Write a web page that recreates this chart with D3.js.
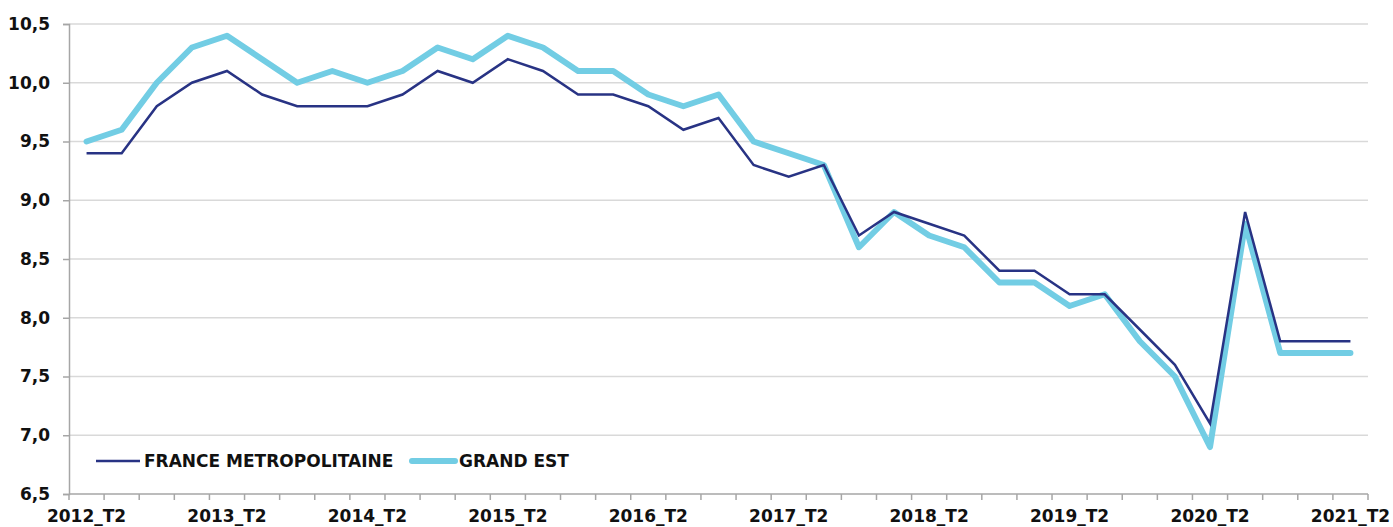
<!DOCTYPE html>
<html>
<head>
<meta charset="utf-8">
<script src="https://cdn.jsdelivr.net/npm/d3@7"></script>
<style>
  html, body { margin: 0; padding: 0; background: #fff; }
  svg { display: block; }
  text { font-family: "DejaVu Sans", sans-serif; }
</style>
</head>
<body>
<svg id="chart" width="1393" height="527"></svg>
<script>
const years = [2012, 2013, 2014, 2015, 2016, 2017, 2018, 2019, 2020, 2021];
const quarters = [];
years.forEach(y => ["T2", "T3", "T4", "T1n"].forEach(q => quarters.push(q === "T1n" ? (y + 1) + "_T1" : y + "_" + q)));
const categories = quarters.slice(0, 37); // 2012_T2 .. 2021_T2

const franceValues = [9.4, 9.4, 9.8, 10.0, 10.1, 9.9, 9.8, 9.8, 9.8, 9.9, 10.1, 10.0, 10.2, 10.1, 9.9, 9.9,
  9.8, 9.6, 9.7, 9.3, 9.2, 9.3, 8.7, 8.9, 8.8, 8.7, 8.4, 8.4, 8.2, 8.2, 7.9, 7.6, 7.1, 8.9, 7.8, 7.8, 7.8];
const grandEstValues = [9.5, 9.6, 10.0, 10.3, 10.4, 10.2, 10.0, 10.1, 10.0, 10.1, 10.3, 10.2, 10.4, 10.3, 10.1, 10.1,
  9.9, 9.8, 9.9, 9.5, 9.4, 9.3, 8.6, 8.9, 8.7, 8.6, 8.3, 8.3, 8.1, 8.2, 7.8, 7.5, 6.9, 8.8, 7.7, 7.7, 7.7];
const yTicks = [6.5, 7.0, 7.5, 8.0, 8.5, 9.0, 9.5, 10.0, 10.5];
const xTickLabels = ["2012_T2", "2013_T2", "2014_T2", "2015_T2", "2016_T2", "2017_T2", "2018_T2", "2019_T2", "2020_T2", "2021_T2"];
const seriesNames = ["FRANCE METROPOLITAINE", "GRAND EST"];

const svg = d3.select("#chart");
const mLeft = 69, mRight = 1368, mTop = 24, mBottom = 494;
const FONT = "'DejaVu Sans', sans-serif";
const FS = 17;
const FW = 700;
const TXT = "#111111";

const x = d3.scaleBand().domain(categories).range([mLeft, mRight]).paddingInner(0).paddingOuter(0);
const y = d3.scaleLinear().domain([6.5, 10.5]).range([mBottom, mTop]);
const cx = c => x(c) + x.bandwidth() / 2;

// grid
svg.append("g").selectAll("line").data(yTicks.slice(1)).join("line")
  .attr("x1", mLeft).attr("x2", mRight)
  .attr("y1", d => y(d)).attr("y2", d => y(d))
  .attr("stroke", "#d9d9d9").attr("stroke-width", 1.5);

// y axis
const fmt = d => d.toFixed(1).replace(".", ",");
const yAxis = svg.append("g").attr("transform", `translate(${mLeft},0)`)
  .call(d3.axisLeft(y).tickValues(yTicks).tickFormat(fmt).tickSize(6).tickPadding(13));
yAxis.select(".domain").attr("stroke", "#a6a6a6").attr("stroke-width", 1.5);
yAxis.selectAll(".tick line").attr("stroke", "#a6a6a6").attr("stroke-width", 1.5);
yAxis.selectAll("text").attr("font-size", FS).attr("font-weight", FW).attr("fill", TXT)
  .attr("font-family", FONT);

// x axis: ticks at category boundaries
const xg = svg.append("g");
xg.append("line").attr("x1", mLeft).attr("x2", mRight).attr("y1", mBottom).attr("y2", mBottom)
  .attr("stroke", "#a6a6a6").attr("stroke-width", 1.5);
const boundaries = categories.map(c => x(c)).concat([mRight]);
xg.selectAll("line.tk").data(boundaries).join("line").attr("class", "tk")
  .attr("x1", d => d).attr("x2", d => d).attr("y1", mBottom).attr("y2", mBottom + 6)
  .attr("stroke", "#a6a6a6").attr("stroke-width", 1.5);
xg.selectAll("text").data(xTickLabels).join("text")
  .attr("x", d => cx(d)).attr("y", 522)
  .attr("text-anchor", "middle").attr("font-size", FS).attr("font-weight", FW).attr("fill", TXT)
  .attr("font-family", FONT)
  .text(d => d);

// lines
const line = d3.line().x((d, i) => cx(categories[i])).y(d => y(d));
svg.append("path").datum(grandEstValues).attr("d", line)
  .attr("fill", "none").attr("stroke", "#72cde4").attr("stroke-width", 6)
  .attr("stroke-linejoin", "round").attr("stroke-linecap", "round");
svg.append("path").datum(franceValues).attr("d", line)
  .attr("fill", "none").attr("stroke", "#283384").attr("stroke-width", 2.5)
  .attr("stroke-linejoin", "miter");

// legend
const lg = svg.append("g");
lg.append("line").attr("x1", 96).attr("x2", 140).attr("y1", 461).attr("y2", 461)
  .attr("stroke", "#283384").attr("stroke-width", 2.5);
lg.append("text").attr("x", 144).attr("y", 467).attr("font-size", FS).attr("font-weight", FW)
  .attr("font-family", FONT)
  .attr("fill", TXT).text(seriesNames[0]);
lg.append("line").attr("x1", 412).attr("x2", 455).attr("y1", 461).attr("y2", 461)
  .attr("stroke", "#72cde4").attr("stroke-width", 6).attr("stroke-linecap", "round");
lg.append("text").attr("x", 459).attr("y", 467).attr("font-size", FS).attr("font-weight", FW)
  .attr("font-family", FONT)
  .attr("fill", TXT).text(seriesNames[1]);
</script>
</body>
</html>
